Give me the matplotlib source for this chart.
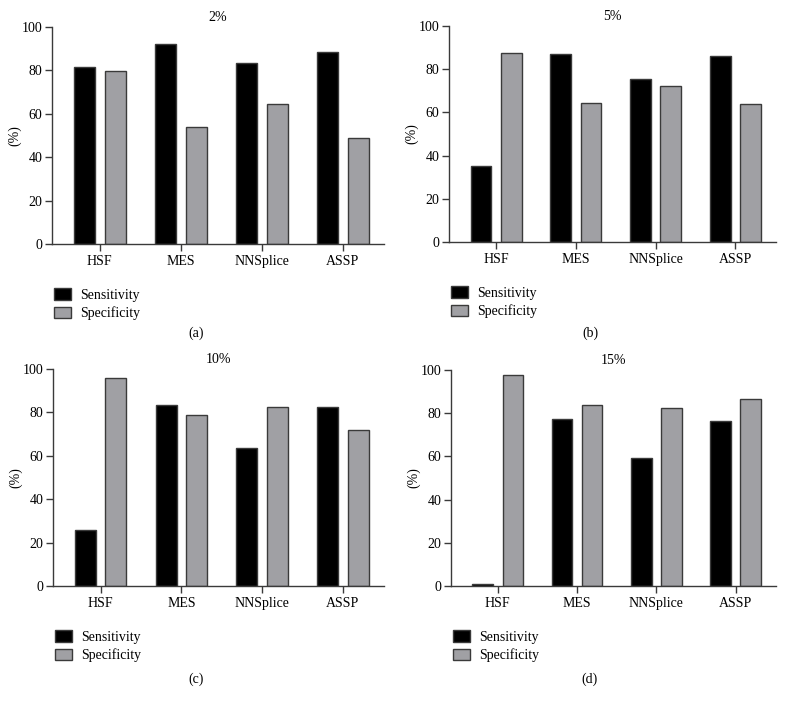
import numpy as np
import matplotlib.pyplot as plt
from matplotlib.patches import Patch

plt.rcParams['font.family'] = ['Liberation Serif', 'DejaVu Serif']

# Data
methods = ['HSF', 'MES', 'NNSplice', 'ASSP']
titles = ['2%', '5%', '10%', '15%']
captions = ['(a)', '(b)', '(c)', '(d)']

sens_2 = [81.7, 92.3, 83.4, 88.6]
spec_2 = [79.7, 53.9, 64.7, 48.7]
sens_5 = [35.4, 87.0, 75.6, 86.1]
spec_5 = [87.6, 64.3, 72.3, 63.7]
sens_10 = [25.7, 83.4, 63.6, 82.3]
spec_10 = [95.7, 78.7, 82.3, 72.0]
sens_15 = [1.1, 77.5, 59.4, 76.6]
spec_15 = [97.5, 83.7, 82.2, 86.8]

sens_all = [sens_2, sens_5, sens_10, sens_15]
spec_all = [spec_2, spec_5, spec_10, spec_15]

W, H = 785, 704
fig = plt.figure(figsize=(W / 100, H / 100), dpi=100)

# axes boxes in pixels: left, top, right, bottom
boxes = [(52, 27, 384, 244), (449, 26, 776, 242),
         (53, 369, 384, 586), (451, 370, 776, 586)]
cap_x = [196, 590, 196, 590]
cap_y = [333, 333, 679, 679]

edge = '#3a3a3a'
x = np.arange(len(methods))
bw = 0.26
off = 0.19

for i in range(4):
    l, t, r, b = boxes[i]
    ax = fig.add_axes([l / W, 1 - b / H, (r - l) / W, (b - t) / H])
    ax.bar(x - off, sens_all[i], bw, color='black', edgecolor=edge, linewidth=1)
    ax.bar(x + off, spec_all[i], bw, color='#a0a0a4', edgecolor=edge, linewidth=1)
    ax.set_xlim(-0.59, 3.51)
    ax.set_ylim(0, 100)
    ax.set_yticks([0, 20, 40, 60, 80, 100])
    ax.set_xticks(x)
    ax.set_xticklabels(methods)
    ax.tick_params(labelsize=10, color=edge, width=1, length=5, pad=2)
    ax.tick_params(axis='x', length=5, pad=3)
    for s in ['top', 'right']:
        ax.spines[s].set_visible(False)
    for s in ['left', 'bottom']:
        ax.spines[s].set_color(edge)
        ax.spines[s].set_linewidth(1)
    ax.set_ylabel('(%)', fontsize=10)
    ax.yaxis.set_label_coords(-31 / (r - l), 0.5)
    ax.set_title(titles[i], fontsize=10, pad=4)

    handles = [Patch(facecolor='black', edgecolor=edge, label='Sensitivity'),
               Patch(facecolor='#a0a0a4', edgecolor=edge, label='Specificity')]
    ax.legend(handles=handles, loc='upper left',
              bbox_to_anchor=((l + 2) / W, 1 - (b + 44) / H),
              bbox_transform=fig.transFigure, frameon=False, fontsize=10,
              handlelength=1.2, handleheight=0.9, handletextpad=0.7,
              labelspacing=0.35, borderaxespad=0, borderpad=0)
    fig.text(cap_x[i] / W, 1 - cap_y[i] / H, captions[i], fontsize=10,
             ha='center', va='center')

fig.savefig('out.png', dpi=100)
